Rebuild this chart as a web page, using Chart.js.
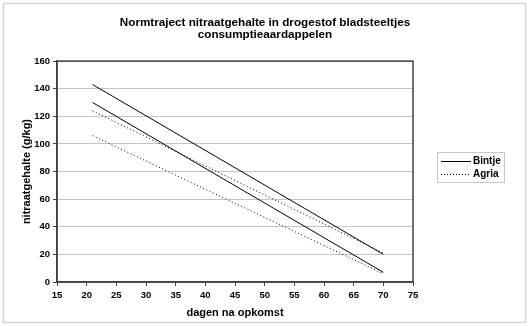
<!DOCTYPE html>
<html>
<head>
<meta charset="utf-8">
<script src="https://cdn.jsdelivr.net/npm/chart.js@4"></script>
<style>
  html, body { margin: 0; padding: 0; background: #fff; }
  #wrap { width: 530px; height: 326px; }
</style>
</head>
<body>
<div id="wrap"><canvas id="myChart" width="530" height="326"></canvas></div>
<script>
const days = [21, 70]
const bintjeUpper = [143, 20]
const bintjeLower = [130, 7]
const agriaUpper = [124, 21]
const agriaLower = [106, 6]

const xTicks = [15, 20, 25, 30, 35, 40, 45, 50, 55, 60, 65, 70, 75]
const yTicks = [0, 20, 40, 60, 80, 100, 120, 140, 160]

const seriesNames = ['Bintje', 'Agria']

const toPoints = (vals) => days.map((d, i) => ({ x: d, y: vals[i] }))

const FONT = 'Liberation Sans, Arial, sans-serif'

const makeSet = (label, vals, dash) => ({
  label: label,
  data: toPoints(vals),
  borderColor: '#000',
  borderWidth: 1,
  borderDash: dash,
  pointRadius: 0,
  fill: false,
  tension: 0,
})

// frame + plot box + legend drawn on canvas
const framePlugin = {
  id: 'frame',
  beforeDraw: (chart) => {
    const ctx = chart.ctx
    ctx.save()
    ctx.fillStyle = '#fff'
    ctx.fillRect(0, 0, chart.width, chart.height)
    ctx.strokeStyle = '#d4d4d4'
    ctx.lineWidth = 1.5
    ctx.strokeRect(3.5, 3.5, 522, 319)
    ctx.restore()
  },
  afterDraw: (chart) => {
    const ctx = chart.ctx
    const a = chart.chartArea
    ctx.save()
    ctx.strokeStyle = '#404040'
    ctx.lineWidth = 1.5
    ctx.strokeRect(a.left, a.top, a.right - a.left, a.bottom - a.top)

    // legend
    ctx.strokeStyle = '#c8c8c8'
    ctx.lineWidth = 1
    ctx.strokeRect(437.5, 152.5, 67, 30)
    ctx.font = 'bold 10px ' + FONT
    ctx.fillStyle = '#000'
    ctx.textBaseline = 'middle'
    const dashes = [[], [1, 2]]
    seriesNames.forEach((name, i) => {
      const y = 161 + i * 13
      ctx.strokeStyle = '#000'
      ctx.setLineDash(dashes[i])
      ctx.beginPath()
      ctx.moveTo(441, y + 0.5)
      ctx.lineTo(471, y + 0.5)
      ctx.stroke()
      ctx.setLineDash([])
      ctx.fillText(name, 473, y + 0.5)
    })
    ctx.restore()
  },
}

const ctx = document.getElementById('myChart').getContext('2d')
const myChart = new Chart(ctx, {
  type: 'line',
  data: {
    datasets: [
      makeSet(seriesNames[0], bintjeUpper, []),
      makeSet(seriesNames[0], bintjeLower, []),
      makeSet(seriesNames[1], agriaUpper, [1, 2.5]),
      makeSet(seriesNames[1], agriaLower, [1, 2.5]),
    ],
  },
  options: {
    responsive: false,
    animation: false,
    layout: { padding: 0 },
    plugins: {
      legend: { display: false },
      tooltip: { enabled: false },
      title: {
        display: true,
        text: ['Normtraject nitraatgehalte in drogestof bladsteeltjes', 'consumptieaardappelen'],
        color: '#000',
        font: { family: FONT, size: 11.7, weight: 'bold', lineHeight: 1.03 },
        padding: { top: 17, bottom: 20 },
        fullSize: true,
      },
    },
    scales: {
      x: {
        type: 'linear',
        min: 15,
        max: 75,
        afterBuildTicks: (scale) => { scale.ticks = xTicks.map((v) => ({ value: v })) },
        afterFit: (scale) => { scale.height = 44 },
        ticks: { color: '#000', font: { family: FONT, size: 9.5, weight: 'bold' }, padding: 4, maxRotation: 0 },
        grid: { drawOnChartArea: false, color: '#404040', tickLength: 4, tickColor: '#404040' },
        border: { color: '#404040', width: 1.5 },
        title: {
          display: true,
          text: 'dagen na opkomst',
          color: '#000',
          font: { family: FONT, size: 11, weight: 'bold' },
          padding: { top: 0, bottom: 6 },
        },
      },
      y: {
        min: 0,
        max: 160,
        afterBuildTicks: (scale) => { scale.ticks = yTicks.map((v) => ({ value: v })) },
        afterFit: (scale) => { scale.width = 57 },
        ticks: { color: '#000', font: { family: FONT, size: 9.5, weight: 'bold' }, padding: 3 },
        grid: { color: '#c4c4c4', tickLength: 4, tickColor: '#404040' },
        border: { color: '#404040', width: 1.5 },
        title: {
          display: true,
          text: 'nitraatgehalte (g/kg)',
          color: '#000',
          font: { family: FONT, size: 11, weight: 'bold' },
          padding: { top: 20, bottom: 0 },
        },
      },
      // empty right-hand space for the legend box
      side: {
        type: 'linear',
        position: 'right',
        display: true,
        afterFit: (scale) => { scale.width = 117 },
        ticks: { display: false },
        grid: { display: false },
        border: { display: false },
      },
    },
  },
  plugins: [framePlugin],
})
</script>
</body>
</html>
